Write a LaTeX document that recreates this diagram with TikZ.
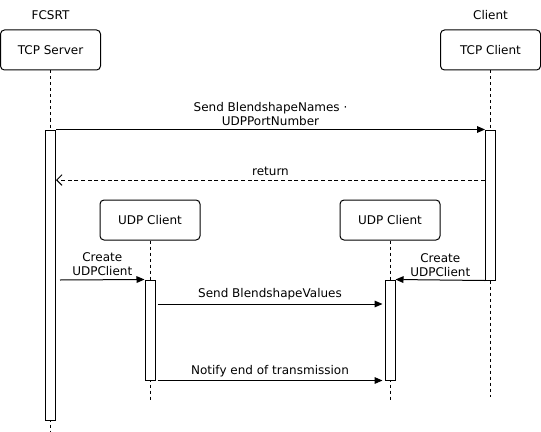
\documentclass[tikz,border=0pt]{standalone}
\usepackage{fontspec}
\setmainfont{DejaVu Sans}
\usetikzlibrary{arrows.meta,positioning}

\begin{document}
\begin{tikzpicture}[x=0.75pt,y=-0.75pt,line width=0.75pt,
    >={Triangle[length=6pt,width=5pt]},node distance=330pt,
    font=\fontsize{9}{10.5}\selectfont,
    box/.style={draw,rounded corners=3pt,minimum width=75pt,minimum height=30pt,inner sep=0pt},
    bar/.style={draw,fill=white,minimum width=7.5pt,inner sep=0pt},
    life/.style={dash pattern=on 2.25pt off 2.25pt},
    ret/.style={dash pattern=on 3pt off 2pt,-{Straight Barb[length=4pt,width=8pt]}},
    lbl/.style={align=center,inner sep=2.5pt}]
    \useasboundingbox (0,0) rectangle (541,431);

    % participants
    \node[box]  (tcps) at (50.5,50)  {TCP Server};
    \node[box]  (tcpc) [right of=tcps] {TCP Client};
    \node       (fcsrt)  [above of=tcps,node distance=26.25pt] {FCSRT};
    \node       (client) [above of=tcpc,node distance=26.25pt] {Client};
    \node[box]  (udpa) at (150,220) {UDP Client};
    \node[box]  (udpb) [right of=udpa,node distance=180pt] {UDP Client};

    % activations
    \coordinate (ends) at (50.5,431);
    \coordinate (endc) at (490.5,397);
    \coordinate (enda) at (150,400);
    \coordinate (endb) at (390,400);
    \draw[life] (tcps) -- (ends);
    \draw[life] (tcpc) -- (endc);
    \draw[life] (udpa) -- (enda);
    \draw[life] (udpb) -- (endb);
    \node[bar,minimum height=217.5pt] (acts) at (50.5,275) {};
    \node[bar,minimum height=112.5pt] (actc) at (490.5,205) {};
    \node[bar,minimum height=75pt]    (acta) at (150,330) {};
    \node[bar,minimum height=75pt]    (actb) at (390,330) {};

    % messages
    \coordinate (r)  at (0,180);
    \coordinate (c1) at (60,280);
    \coordinate (v)  at (0,304);
    \draw[->] (acts.north east) -- node[lbl,above] {Send BlendshapeNames ·\\UDPPortNumber} (actc.north west);
    \draw[ret] (actc.west |- r) -- node[lbl,above] {return} (acts.east |- r);
    \draw[->] (c1) -- node[lbl,above] {Create\\UDPClient} (acta.north west);
    \draw[->] (actc.south west) -- node[lbl,above] {Create\\UDPClient} (actb.north east);
    \draw[->,shorten <=1.5pt,shorten >=1.5pt] (acta.east |- v) -- node[lbl,above] {Send BlendshapeValues} (actb.west |- v);
    \draw[->,shorten <=1.5pt,shorten >=1.5pt] (acta.south east) -- node[lbl,above] {Notify end of transmission} (actb.south west);
\end{tikzpicture}
\end{document}
